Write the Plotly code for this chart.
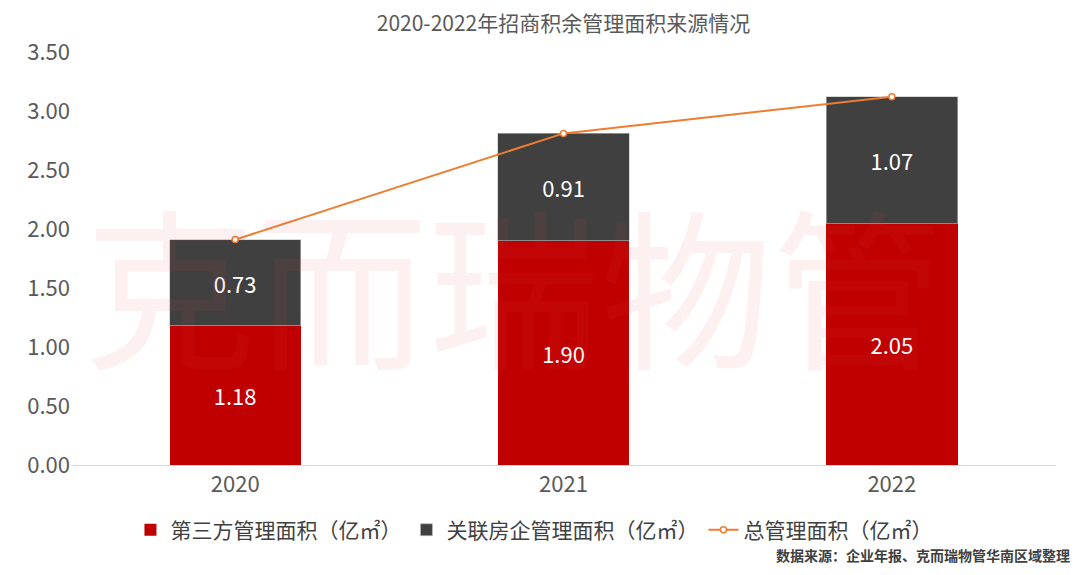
import plotly.graph_objects as go

years = ["2020", "2021", "2022"]
third_party = [1.18, 1.90, 2.05]
related = [0.73, 0.91, 1.07]
total = [1.91, 2.81, 3.12]

name_third = "第三方管理面积（亿㎡）"
name_related = "关联房企管理面积（亿㎡）"
name_total = "总管理面积（亿㎡）"

font_family = "Noto Sans CJK SC, Noto Sans, sans-serif"

fig = go.Figure()
fig.add_trace(go.Bar(
    x=years, y=third_party, name=name_third,
    marker=dict(color="#C00000", line=dict(width=0)),
    text=[f"{v:.2f}" for v in third_party], textposition="inside",
    insidetextanchor="middle",
    textfont=dict(color="white", size=22, family=font_family),
))
fig.add_trace(go.Bar(
    x=years, y=related, name=name_related,
    marker=dict(color="#404040", line=dict(width=0.6, color="#BFBFBF")),
    text=[f"{v:.2f}" for v in related], textposition="inside",
    insidetextanchor="middle",
    textfont=dict(color="white", size=22, family=font_family),
))
fig.add_trace(go.Scatter(
    x=years, y=total, name=name_total, mode="lines+markers",
    line=dict(color="#ED7D31", width=2),
    marker=dict(size=6, color="white", line=dict(color="#ED7D31", width=1.5)),
))

fig.update_layout(
    barmode="stack",
    bargap=0.6,
    width=1064, height=559,
    margin=dict(l=63, r=16, t=44, b=102, autoexpand=False),
    paper_bgcolor="white", plot_bgcolor="white",
    font=dict(family=font_family, color="#595959", size=22),
    title=dict(text="2020-2022年招商积余管理面积来源情况", x=0.5, xanchor="center",
               xref="paper", yref="container",
               y=0.972, yanchor="middle", font=dict(size=21, color="#595959")),
    xaxis=dict(showgrid=False, showline=True, linecolor="#D9D9D9", linewidth=1,
               ticks="", tickfont=dict(size=22, color="#595959")),
    yaxis=dict(range=[0, 3.5], dtick=0.5, tickformat=".2f", showgrid=False,
               zeroline=False, showline=False, ticks="",
               tickfont=dict(size=22, color="#595959")),
    legend=dict(orientation="h", x=0.47, xanchor="center", y=-0.108, yanchor="top",
                font=dict(size=21, color="#404040"), traceorder="normal",
                itemwidth=30),
    showlegend=True,
)

fig.add_annotation(
    text="克而瑞物管", xref="paper", yref="paper", x=0.45, y=0.445,
    xanchor="center", yanchor="middle", showarrow=False,
    font=dict(size=172, color="rgba(220,60,60,0.08)", family=font_family),
)
fig.add_annotation(
    text="<b>数据来源：企业年报、克而瑞物管华南区域整理</b>", xref="paper", yref="paper",
    x=1.016, y=-0.247, xanchor="right", yanchor="bottom", showarrow=False,
    font=dict(size=14, color="#404040", family=font_family),
)

fig.write_html("out.html")
